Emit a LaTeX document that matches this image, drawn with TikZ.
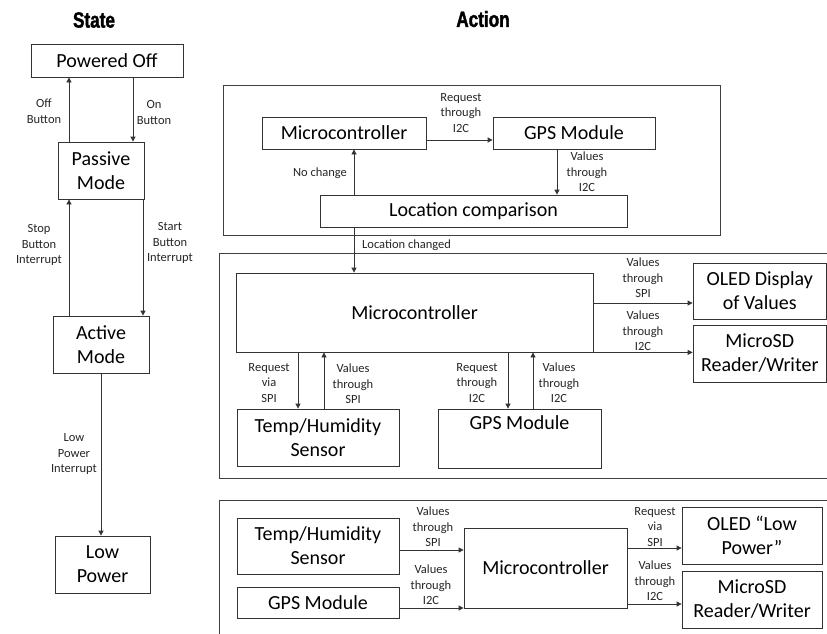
\documentclass[tikz,border=0pt]{standalone}
\usepackage{fontspec}
\setmainfont{Carlito}
\newfontfamily\headfont[FakeStretch=0.78, FakeBold=1.6]{Liberation Sans Bold}
\usetikzlibrary{
	arrows.meta,
	calc,
	positioning,
}
\tikzset{
box node/.style={
	draw,
	black!80,
	text=black,
	line width=0.8pt,
	inner sep=2pt,
	align=center,
	font=\fontsize{20}{24}\selectfont,
},
tag node/.style={
	align=center,
	inner sep=0pt,
	text=black!85,
	font=\fontsize{12.5}{15.5}\selectfont,
},
head node/.style={
	font=\headfont\fontsize{22}{24}\selectfont,
},
frame line/.style={draw=black!75, line width=0.9pt},
link/.style={-{Triangle[length=5pt,width=5pt]}, black!80, line width=0.8pt},
}

\begin{document}
\begin{tikzpicture}[x=1pt,y=-1pt]
\clip (0,0) rectangle (827,633);
\fill[white] (0,0) rectangle (827,633);

\node[head node](statehead) at(94,20) {State};
\node[head node](actionhead) at(483,19) {Action};

\node[box node, minimum width=152pt, minimum height=33pt](pwr) at(107,60.5) {Powered Off};
\node[box node, minimum width=86pt, minimum height=57pt](pas) at(101,170.5) {Passive\\Mode};
\node[box node, minimum width=96pt, minimum height=57pt](act) at(101,344.5) {Active\\Mode};
\node[box node, minimum width=95pt, minimum height=57pt](lowp) at(102.5,564.5) {Low\\Power};

\draw[link] ([xshift=-32pt]pas.north) -- ([xshift=-32pt]pas.north |- pwr.south);
\draw[link] ([xshift=32pt]pas.north |- pwr.south) -- ([xshift=32pt]pas.north);
\draw[link] ([xshift=-32pt]pas.south |- act.north) -- ([xshift=-32pt]pas.south);
\draw[link] ([xshift=42pt]pas.south) -- ([xshift=42pt]pas.south |- act.north);
\draw[link] (act.south) -- (act.south |- lowp.north);

\node[tag node](offtag) at(44,111) {Off\\Button};
\node[tag node](ontag) at(154,112.5) {On\\Button};
\node[tag node](stoptag) at(39,245) {Stop\\Button\\Interrupt};
\node[tag node](starttag) at(170,243) {Start\\Button\\Interrupt};
\node[tag node](lowtag) at(74,454) {Low\\Power\\Interrupt};

\draw[frame line] (223,85) rectangle (720,235);
\draw[frame line] (219,253) rectangle (845,478);
\draw[frame line] (219,500) rectangle (845,650);

\node[box node, minimum width=164pt, minimum height=32pt](mcone) at(344,133) {Microcontroller};
\node[box node, minimum width=162pt, minimum height=32pt](gpsone) at(574,133) {GPS Module};
\node[box node, minimum width=307pt, minimum height=32pt](loc) at(473.5,211) {Location comparison};

\draw[link] ([yshift=-7pt]mcone.east) -- ([yshift=-7pt]mcone.east -| gpsone.west);
\draw[link] ([xshift=-17pt]gpsone.south) -- ([xshift=-17pt]gpsone.south |- loc.north);
\draw[link] ([xshift=10pt]mcone.south |- loc.north) -- ([xshift=10pt]mcone.south);

\node[tag node](reqonetag) at(461,113) {Request\\through\\I2C};
\node[tag node](valonetag) at(587,172) {Values\\through\\I2C};
\node[tag node](nochgtag) at(320,173) {No change};

\node[box node, minimum width=357pt, minimum height=79pt](mctwo) at(414.5,312.5) {Microcontroller};
\node[box node, minimum width=133.5pt, minimum height=56pt](oledone) at(759.75,291) {OLED Display\\of Values};
\node[box node, minimum width=133.5pt, minimum height=57pt](sdone) at(759.75,353.5) {MicroSD\\Reader/Writer};
\node[box node, minimum width=162pt, minimum height=57pt](tempone) at(318,437.5) {Temp/Humidity\\Sensor};
\node[box node, minimum width=163pt, minimum height=59pt](gpstwo) at(519.5,438.5) {GPS Module\\\strut};

\draw[link] ([xshift=-60.5pt]mctwo.north |- loc.south) -- ([xshift=-60.5pt]mctwo.north);
\node[tag node, anchor=west](locchgtag) at(362,245) {Location changed};

\draw[link] ([yshift=9.5pt]mctwo.east) -- ([yshift=9.5pt]mctwo.east -| oledone.west);
\draw[link] (mctwo.south east) -- (mctwo.south east -| sdone.west);
\draw[link] ([xshift=-20pt]tempone.north |- mctwo.south) -- ([xshift=-20pt]tempone.north);
\draw[link] ([xshift=6pt]tempone.north) -- ([xshift=6pt]tempone.north |- mctwo.south);
\draw[link] ([xshift=-11.5pt]gpstwo.north |- mctwo.south) -- ([xshift=-11.5pt]gpstwo.north);
\draw[link] ([xshift=13.5pt]gpstwo.north) -- ([xshift=13.5pt]gpstwo.north |- mctwo.south);

\node[tag node](spionetag) at(643,278) {Values\\through\\SPI};
\node[tag node](itwoonetag) at(643,331) {Values\\through\\I2C};
\node[tag node](reqspitag) at(269,383) {Request\\via\\SPI};
\node[tag node](valspitag) at(353,384) {Values\\through\\SPI};
\node[tag node](reqitwotag) at(477,383) {Request\\through\\I2C};
\node[tag node](valitwotag) at(559,383) {Values\\through\\I2C};

\node[box node, minimum width=162pt, minimum height=56pt](temptwo) at(318,546) {Temp/Humidity\\Sensor};
\node[box node, minimum width=162pt, minimum height=31pt](gpsthree) at(318,602.5) {GPS Module};
\node[box node, minimum width=163pt, minimum height=80pt](mcthree) at(545.5,568) {Microcontroller};
\node[box node, minimum width=140pt, minimum height=57pt](oledtwo) at(752,535.5) {OLED “Low\\Power”};
\node[box node, minimum width=140pt, minimum height=57pt](sdtwo) at(752,599.5) {MicroSD\\Reader/Writer};

\draw[link] ([yshift=-4pt]temptwo.east) -- ([yshift=-4pt]temptwo.east -| mcthree.west);
\draw[link] ([yshift=-5.5pt]gpsthree.east) -- ([yshift=-5.5pt]gpsthree.east -| mcthree.west);
\draw[link] ([yshift=20pt]mcthree.east) -- ([yshift=20pt]mcthree.east -| oledtwo.west);
\draw[link] ([yshift=-36pt]mcthree.east) -- ([yshift=-36pt]mcthree.east -| sdtwo.west);

\node[tag node](spitwotag) at(433,527) {Values\\through\\SPI};
\node[tag node](itwotwotag) at(431,585) {Values\\through\\I2C};
\node[tag node](reqtwotag) at(655,527) {Request\\via\\SPI};
\node[tag node](valtwotag) at(655,581) {Values\\through\\I2C};
\end{tikzpicture}
\end{document}
